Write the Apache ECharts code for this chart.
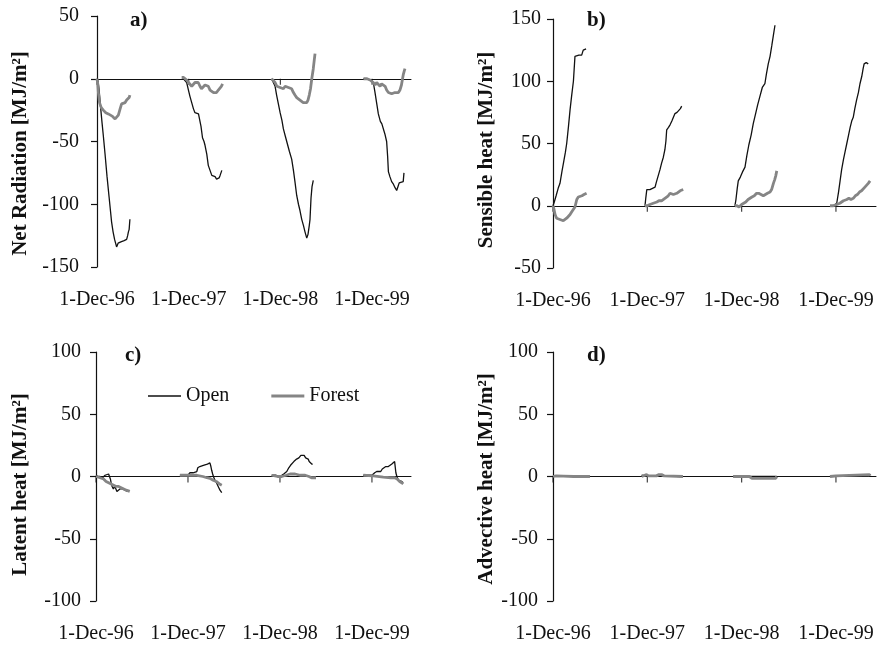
<!DOCTYPE html>
<html>
<head>
<meta charset="utf-8">
<script src="https://cdn.jsdelivr.net/npm/echarts@6/dist/echarts.min.js"></script>
<style>
html, body { margin: 0; padding: 0; background: #fff; }
#chart { width: 880px; height: 645px; }
</style>
</head>
<body>
<div id="chart"></div>
<script>
// x values are days counted from 1-Dec-96
const xTickDays = [0, 365, 730, 1095]
const xTickLabels = ['1-Dec-96', '1-Dec-97', '1-Dec-98', '1-Dec-99']
const xMax = 1250

const panelLetters = ['a)', 'b)', 'c)', 'd)']
const yNames = ['Net Radiation [MJ/m²]', 'Sensible heat [MJ/m²]', 'Latent heat [MJ/m²]', 'Advective heat [MJ/m²]']
const yMins = [-150, -50, -100, -100]
const yMaxs = [50, 150, 100, 100]

// one array per winter season, points are [day, MJ/m2]
const netOpen = [
  [[0, 0], [4, -2], [8, -8], [14, -22], [20, -35], [25, -45], [32, -60], [40, -78], [48, -94], [54, -106], [58, -114], [64, -122], [70, -128], [78, -134], [84, -131], [95, -130], [108, -129], [118, -128], [122, -125], [125, -122], [128, -120], [131, -112]],
  [[344, 0], [350, 0], [357, -3], [364, -9], [370, -14], [377, -19], [384, -24], [390, -27], [397, -27], [404, -28], [410, -29], [414, -38], [420, -47], [426, -50], [430, -53], [437, -60], [443, -69], [450, -73], [457, -77], [464, -77], [470, -78], [476, -80], [481, -81], [486, -79], [490, -77], [494, -77], [497, -73]],
  [[695, 0], [702, -1], [709, -6], [715, -13], [722, -20], [729, -27], [736, -33], [742, -40], [750, -46], [758, -52], [766, -58], [775, -64], [782, -73], [788, -82], [795, -93], [802, -100], [808, -105], [815, -112], [822, -117], [828, -122], [835, -127], [840, -124], [845, -117], [848, -112], [852, -95], [856, -86], [861, -81]],
  [[1061, 0], [1075, 0], [1087, -1], [1100, -3], [1106, -10], [1113, -19], [1120, -28], [1128, -34], [1134, -36], [1140, -37], [1146, -44], [1153, -50], [1157, -62], [1160, -74], [1166, -78], [1173, -82], [1180, -84], [1187, -87], [1193, -89], [1198, -86], [1203, -83], [1210, -82], [1219, -82], [1222, -75]]
]
const netForest = [
  [[0, 0], [3, -4], [6, -12], [10, -19], [17, -23], [25, -25], [35, -27], [45, -28], [52, -29], [62, -30], [72, -32], [78, -33], [85, -29], [92, -24], [98, -20], [105, -19], [112, -19], [118, -17], [124, -16], [128, -15], [131, -13]],
  [[337, 1], [345, 1], [352, 0], [357, -1], [364, -3], [370, -4], [377, -6], [383, -5], [390, -3], [397, -4], [403, -3], [410, -6], [416, -8], [423, -8], [430, -5], [437, -5], [443, -6], [450, -9], [457, -10], [464, -11], [470, -12], [476, -11], [483, -9], [490, -8], [495, -6], [500, -4]],
  [[695, 0], [702, -1], [709, -3], [716, -6], [722, -7], [729, -7], [736, -6], [742, -8], [749, -6], [755, -5], [762, -7], [769, -7], [775, -8], [782, -11], [788, -13], [795, -15], [802, -16], [808, -17], [815, -18], [821, -19], [828, -19], [835, -19], [840, -17], [845, -13], [850, -8], [855, 0], [861, 8], [865, 15], [868, 20]],
  [[1061, 0], [1075, 0], [1087, -1], [1094, -2], [1100, -3], [1107, -5], [1113, -3], [1120, -4], [1127, -6], [1133, -4], [1140, -4], [1147, -6], [1153, -9], [1160, -11], [1167, -10], [1173, -12], [1180, -13], [1186, -11], [1193, -12], [1200, -11], [1206, -9], [1212, -5], [1219, 3], [1223, 6], [1226, 8]]
]
const sensOpen = [
  [[0, 0], [5, 3], [12, 8], [20, 14], [27, 18], [35, 28], [42, 36], [48, 43], [53, 50], [60, 64], [66, 77], [72, 88], [76, 95], [79, 100], [82, 110], [85, 120], [92, 121], [100, 121], [111, 121], [117, 125], [122, 125], [128, 126]],
  [[356, 0], [359, 6], [363, 13], [369, 13], [375, 13], [385, 14], [395, 15], [400, 19], [407, 24], [414, 29], [420, 34], [427, 39], [433, 45], [437, 52], [440, 61], [447, 63], [453, 65], [460, 68], [466, 71], [472, 74], [480, 75], [487, 76], [493, 78], [498, 80]],
  [[704, 0], [708, 5], [713, 14], [717, 20], [725, 23], [733, 27], [743, 31], [750, 40], [758, 49], [767, 57], [775, 66], [783, 73], [792, 81], [801, 88], [810, 95], [820, 98], [826, 106], [833, 114], [840, 120], [847, 129], [853, 137], [859, 145]],
  [[1072, 0], [1085, 0], [1098, 2], [1105, 11], [1111, 20], [1117, 29], [1124, 37], [1130, 43], [1137, 50], [1144, 57], [1150, 63], [1156, 68], [1162, 71], [1168, 78], [1175, 85], [1182, 91], [1188, 98], [1195, 104], [1200, 110], [1204, 114], [1212, 115], [1220, 114]]
]
const sensForest = [
  [[0, 0], [4, -3], [8, -7], [14, -10], [20, -11], [27, -11], [34, -12], [40, -12], [47, -11], [53, -10], [59, -9], [66, -7], [72, -5], [79, -4], [85, -1], [92, 5], [98, 7], [104, 8], [112, 8], [120, 9], [126, 10], [130, 10]],
  [[356, 0], [365, 0], [375, 1], [388, 2], [395, 1], [402, 3], [410, 4], [420, 4], [427, 3], [433, 6], [440, 7], [446, 8], [453, 10], [460, 9], [466, 9], [472, 10], [479, 10], [486, 11], [492, 12], [498, 11], [504, 13]],
  [[704, 0], [712, 0], [720, -1], [730, 1], [738, 2], [746, 3], [755, 5], [762, 5], [770, 7], [779, 8], [788, 10], [796, 10], [805, 9], [814, 8], [822, 9], [830, 10], [840, 11], [846, 13], [853, 18], [858, 21], [862, 24], [866, 28]],
  [[1072, 0], [1085, 0], [1098, 1], [1110, 2], [1117, 2], [1124, 4], [1130, 3], [1137, 5], [1145, 6], [1153, 5], [1162, 6], [1170, 8], [1178, 9], [1186, 11], [1194, 12], [1200, 13], [1207, 15], [1214, 16], [1220, 18], [1227, 20]]
]
const latOpen = [
  [[0, 1], [8, 0], [16, 0], [26, -1], [32, 0], [36, 1], [42, 2], [50, 2], [55, 2], [57, -2], [60, -5], [64, -8], [69, -10], [75, -8], [79, -10], [83, -12], [88, -11], [95, -10], [105, -10], [115, -11], [125, -12]],
  [[333, 1], [350, 1], [365, 1], [373, 3], [385, 3], [400, 4], [404, 7], [412, 8], [419, 8], [426, 9], [433, 10], [442, 10], [452, 11], [456, 8], [459, 5], [463, 2], [466, 0], [472, -3], [478, -5], [485, -8], [492, -11], [499, -13]],
  [[697, 1], [715, 1], [730, 0], [737, 0], [745, 2], [752, 3], [757, 4], [765, 7], [772, 9], [777, 10], [785, 12], [790, 13], [796, 14], [805, 15], [813, 17], [820, 18], [826, 17], [832, 15], [836, 15], [842, 14], [846, 12], [852, 12], [856, 10], [860, 10]],
  [[1061, 1], [1080, 1], [1095, 1], [1100, 2], [1106, 3], [1114, 4], [1122, 4], [1130, 4], [1136, 6], [1142, 7], [1150, 8], [1160, 8], [1167, 9], [1174, 10], [1180, 11], [1185, 12], [1188, 12], [1190, 3], [1194, 0], [1200, -3], [1207, -4], [1213, -4], [1219, -5]]
]
const latForest = [
  [[0, 0], [16, -1], [30, -2], [40, -4], [50, -5], [60, -6], [70, -7], [80, -8], [90, -8], [100, -9], [110, -10], [120, -11], [134, -12]],
  [[333, 1], [373, 1], [400, 1], [424, 0], [440, -1], [452, -1.5], [465, -3], [477, -4], [490, -6], [499, -7]],
  [[697, 1], [720, 0], [737, 0], [755, 1], [770, 2], [790, 2], [810, 1], [830, 1], [845, 0], [855, -1], [873, -1]],
  [[1061, 1], [1100, 0.5], [1140, -0.5], [1170, -1], [1185, -1], [1195, -2], [1205, -4], [1213, -5], [1219, -6]]
]
const advOpen = [
  [[0, 0.5], [40, 0.3], [90, 0], [143, 0]],
  [[343, 1], [360, 0.5], [420, 0.5], [503, 0]],
  [[697, 0], [780, 0], [866, 0]],
  [[1072, 0], [1150, 0.5], [1227, 0.5]]
]
const advForest = [
  [[0, 0], [5, 1.5], [12, 0.5], [40, 0.3], [80, 0], [143, 0]],
  [[343, 0], [350, 1.5], [362, 1.5], [370, 0.5], [400, 0.5], [410, 1.5], [420, 1.5], [430, 0.5], [503, 0]],
  [[697, 0], [760, 0], [770, -1.5], [862, -1.5], [866, 0]],
  [[1072, 0], [1095, 0.5], [1100, 1.5], [1225, 1.5], [1227, 0.5]]
]

const openSets = [netOpen, sensOpen, latOpen, advOpen]
const forestSets = [netForest, sensForest, latForest, advForest]

const font = '"Liberation Serif", "Times New Roman", serif'
const ink = '#111'
const gray = '#858585'

const grids = [
  { left: 97, top: 16, width: 314, height: 251 },
  { left: 553, top: 19, width: 323, height: 249 },
  { left: 96, top: 352, width: 315, height: 249 },
  { left: 553, top: 352, width: 323, height: 249 }
]
const nameGaps = [66, 56, 65, 56]
const namePads = [24, 13, 16, 5]
const labelMargins = [18, 12, 15, 15]
const letterPos = [[130, 31], [587, 31], [125, 366], [587, 366]]

let xAxes = []
let xLabelAxes = []
let yAxes = []
let series = []
let letters = []

for (let i = 0; i < 4; i++) {
  // axis line that crosses at zero
  xAxes.push({
    type: 'value',
    gridIndex: i,
    min: 0,
    max: xMax,
    position: 'top',
    axisLine: { show: true, onZero: true, lineStyle: { color: ink, width: 1 } },
    axisTick: { show: false },
    axisLabel: { show: false },
    splitLine: { show: false }
  })
  // date labels under the plot
  xLabelAxes.push({
    type: 'value',
    gridIndex: i,
    min: 0,
    max: xMax,
    position: 'bottom',
    axisLine: { show: false, onZero: false },
    axisTick: { show: false },
    axisLabel: {
      margin: 23,
      customValues: xTickDays,
      formatter: v => xTickLabels[xTickDays.indexOf(v)] || '',
      fontFamily: font,
      fontSize: 20,
      color: ink
    },
    splitLine: { show: false }
  })
  yAxes.push({
    type: 'value',
    gridIndex: i,
    min: yMins[i],
    max: yMaxs[i],
    interval: 50,
    axisLine: { show: true, onZero: false, lineStyle: { color: ink, width: 1.2 } },
    axisTick: { show: true, length: 6, lineStyle: { color: ink, width: 1.2 } },
    axisLabel: { margin: labelMargins[i], fontFamily: font, fontSize: 20, color: ink },
    splitLine: { show: false },
    name: yNames[i],
    nameLocation: 'middle',
    nameRotate: 90,
    nameGap: nameGaps[i],
    nameTextStyle: { fontFamily: font, fontWeight: 'bold', fontSize: 21, color: ink, padding: [0, namePads[i], 0, 0] }
  })
  // tick marks hanging under the zero line
  series.push({
    type: 'scatter', xAxisIndex: i, yAxisIndex: i,
    data: xTickDays.map(d => [d, 0]),
    symbol: 'rect', symbolSize: [1.2, 6], symbolOffset: [0, 3],
    itemStyle: { color: ink }, silent: true, z: 1
  })
  openSets[i].forEach(season => {
    series.push({
      name: 'Open', type: 'line', xAxisIndex: i, yAxisIndex: i, data: season,
      symbol: 'none', silent: true, z: 2,
      lineStyle: { color: ink, width: 1.3 }, itemStyle: { color: ink }
    })
  })
  forestSets[i].forEach(season => {
    series.push({
      name: 'Forest', type: 'line', xAxisIndex: i, yAxisIndex: i, data: season,
      symbol: 'none', silent: true, z: 3,
      lineStyle: { color: gray, width: 2.8 }, itemStyle: { color: gray }
    })
  })
  letters.push({
    type: 'text',
    style: {
      x: letterPos[i][0], y: letterPos[i][1], text: panelLetters[i],
      verticalAlign: 'bottom', fill: ink,
      font: 'bold 21px "Liberation Serif", serif'
    }
  })
}

let myChart = echarts.init(document.getElementById('chart'))
let option = {
  animation: false,
  backgroundColor: '#fff',
  textStyle: { fontFamily: font },
  grid: grids,
  xAxis: xAxes.concat(xLabelAxes),
  yAxis: yAxes,
  legend: {
    left: 143,
    top: 381,
    selectedMode: false,
    itemWidth: 33,
    itemHeight: 10,
    itemGap: 42,
    textStyle: { fontFamily: font, fontSize: 20, color: ink },
    data: [
      { name: 'Open', icon: 'path://M0 0H33V1.3H0Z' },
      { name: 'Forest', icon: 'path://M0 0H33V3H0Z' }
    ]
  },
  graphic: letters,
  series: series
}
myChart.setOption(option)
</script>
</body>
</html>
